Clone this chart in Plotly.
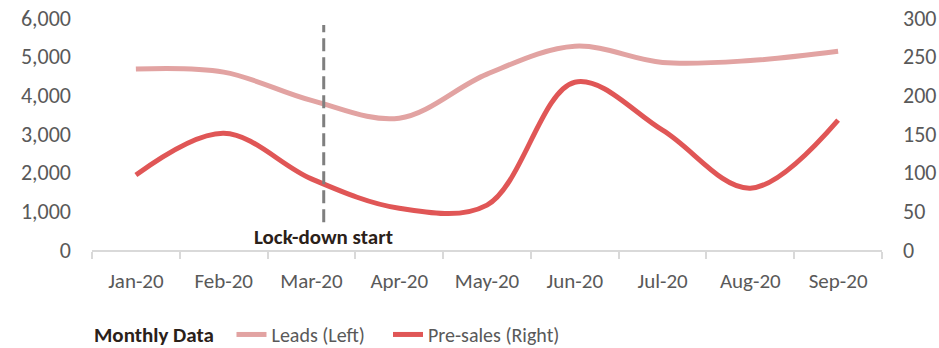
import plotly.graph_objects as go

months = ["Jan-20", "Feb-20", "Mar-20", "Apr-20", "May-20", "Jun-20", "Jul-20", "Aug-20", "Sep-20"]
leads = [4680, 4600, 3870, 3410, 4550, 5270, 4850, 4900, 5140]
presales = [97, 151, 92, 54, 58, 217, 155, 80, 168]
left_ticks = [0, 1000, 2000, 3000, 4000, 5000, 6000]
right_ticks = [0, 50, 100, 150, 200, 250, 300]
lockdown_pos = 2.14
lockdown_label = "Lock-down start"

FONT = "Carlito, Lato, Open Sans, sans-serif"
TICKC = "#595959"
AXC = "#d9d9d9"

fig = go.Figure()
fig.add_trace(go.Scatter(x=months, y=leads, name="Leads (Left)&nbsp;&nbsp;&nbsp;&nbsp;", mode="lines",
                         hovertemplate="Leads (Left): %{y:,}<extra></extra>",
                         line=dict(color="#e2a3a2", width=5, shape="spline", smoothing=1.0)))
fig.add_trace(go.Scatter(x=months, y=presales, name="Pre-sales (Right)", mode="lines", yaxis="y2",
                         line=dict(color="#e05656", width=5, shape="spline", smoothing=1.0)))

fig.add_shape(type="line", xref="x", yref="y", x0=lockdown_pos, x1=lockdown_pos, y0=720, y1=5820,
              line=dict(color="#7f7f7f", width=3, dash="13px,6px"))
fig.add_annotation(x=lockdown_pos, y=336, xref="x", yref="y", text="<b>" + lockdown_label + "</b>",
                   showarrow=False, font=dict(family=FONT, size=21, color="#2b2119"),
                   xanchor="center", yanchor="middle")

fig.update_layout(
    width=939, height=348,
    margin=dict(l=92, r=57, t=18, b=98, autoexpand=False),
    paper_bgcolor="white", plot_bgcolor="white",
    font=dict(family=FONT, size=21, color=TICKC),
    xaxis=dict(type="category", tickson="boundaries", showgrid=False, showline=True,
               linecolor=AXC, linewidth=1.5, ticks="outside", ticklen=7, tickcolor=AXC,
               tickwidth=1.5, ticklabelstandoff=11, tickfont=dict(size=21, color=TICKC),
               range=[-0.5, 8.5]),
    yaxis=dict(range=[0, 6000], tickvals=left_ticks, tickformat=",", showgrid=False,
               zeroline=False, showline=False, ticklabelstandoff=20,
               tickfont=dict(size=22, color=TICKC)),
    yaxis2=dict(range=[0, 300], tickvals=right_ticks, overlaying="y", side="right",
                showgrid=False, zeroline=False, showline=False, ticklabelstandoff=20,
                tickfont=dict(size=22, color=TICKC)),
    showlegend=True,
    legend=dict(orientation="h", x=0, xanchor="left", y=-0.28, yanchor="top",
                title=dict(text="<b>Monthly Data</b>  ", font=dict(size=21, color="#2b2119")),
                font=dict(size=20, color=TICKC), tracegroupgap=0),
)

fig.write_html("out.html")
